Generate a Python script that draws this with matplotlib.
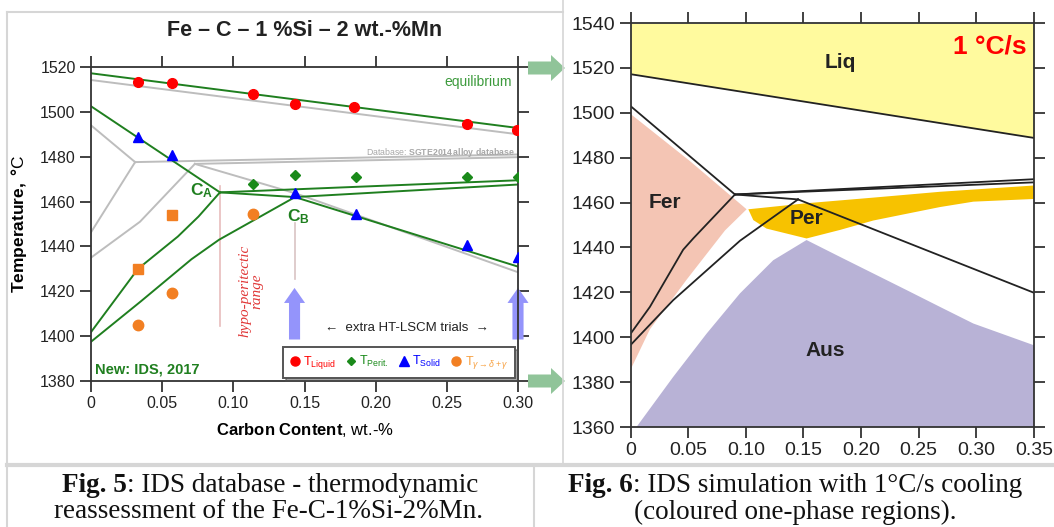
import matplotlib
matplotlib.use('Agg')
import matplotlib.pyplot as plt
from matplotlib.lines import Line2D
from matplotlib.patches import FancyArrow
from matplotlib.offsetbox import TextArea, HPacker, AnchoredOffsetbox

plt.rcParams['font.family'] = ['Liberation Sans', 'DejaVu Sans']
plt.rcParams['mathtext.fontset'] = 'custom'
plt.rcParams['mathtext.rm'] = 'Liberation Sans'
plt.rcParams['mathtext.it'] = 'Liberation Sans:italic'
plt.rcParams['mathtext.bf'] = 'Liberation Sans:bold'

# ---------------- Fig. 5 : measured points ----------------
liq_c = [0.033, 0.057, 0.114, 0.143, 0.185, 0.264, 0.299]
liq_t = [1513.4, 1513.0, 1507.8, 1503.7, 1502.0, 1494.5, 1491.8]
per_c = [0.114, 0.143, 0.186, 0.264, 0.300]
per_t = [1467.9, 1471.9, 1471.1, 1470.8, 1471.1]
sol_c = [0.033, 0.057, 0.143, 0.186, 0.264, 0.300]
sol_t = [1488.9, 1480.7, 1463.7, 1454.5, 1440.7, 1435.1]
gd_sq_c = [0.033, 0.057]
gd_sq_t = [1429.8, 1454.0]
gd_ci_c = [0.033, 0.057, 0.114]
gd_ci_t = [1404.8, 1419.2, 1454.4]

# ---------------- Fig. 5 : IDS equilibrium lines (green) ----------------
eq_liq_c = [0, 0.30]
eq_liq_t = [1517.2, 1492.8]
eq_dsol_c = [0, 0.0906]
eq_dsol_t = [1502.5, 1464.1]
eq_ddg_c = [0, 0.033, 0.061, 0.0755, 0.0906]
eq_ddg_t = [1401.8, 1430.0, 1444.4, 1453.3, 1464.1]
eq_gdg_c = [0, 0.035, 0.0706, 0.090, 0.1433]
eq_gdg_t = [1397.5, 1415.5, 1434.3, 1443.0, 1462.0]
eq_per1_c = [0.0906, 0.30]
eq_per1_t = [1464.1, 1469.5]
eq_per2_c = [0.0906, 0.1433, 0.30]
eq_per2_t = [1464.1, 1462.0, 1467.6]
eq_gsol_c = [0.1433, 0.30]
eq_gsol_t = [1462.0, 1431.0]

# ---------------- Fig. 5 : SGTE2014 database lines (grey) ----------------
db_liq_c = [0, 0.30]
db_liq_t = [1514.2, 1490.0]
db_dsol_c = [0, 0.031]
db_dsol_t = [1494.0, 1477.6]
db_ddg_c = [0, 0.031]
db_ddg_t = [1446.3, 1477.6]
db_gdg_c = [0, 0.0344, 0.073]
db_gdg_t = [1435.0, 1451.0, 1476.8]
db_per1_c = [0.031, 0.30]
db_per1_t = [1477.6, 1481.0]
db_per2_c = [0.073, 0.30]
db_per2_t = [1476.8, 1479.8]
db_gsol_c = [0.073, 0.1445, 0.30]
db_gsol_t = [1476.8, 1463.5, 1428.5]

# hypo-peritectic range limits and extra trials
hypo_c = [0.0906, 0.143]
hypo_lo = [1404.5, 1425.3]
hypo_hi = [1467.0, 1450.4]
trial_c = [0.143, 0.300]

# ---------------- Fig. 6 : simulation lines (black) ----------------
s_liq_c = [0, 0.35]
s_liq_t = [1517.2, 1488.8]
s_dsol_c = [0, 0.0906]
s_dsol_t = [1503.0, 1463.6]
s_per1_c = [0.0906, 0.35]
s_per1_t = [1463.6, 1470.4]
s_per2_c = [0.0906, 0.35]
s_per2_t = [1463.6, 1469.0]
s_per3_c = [0.0906, 0.1453]
s_per3_t = [1463.6, 1461.4]
s_gsol_c = [0.1453, 0.35]
s_gsol_t = [1461.4, 1419.8]
s_ddg_c = [0, 0.0168, 0.0457, 0.0544, 0.0906]
s_ddg_t = [1401.5, 1413.5, 1439.0, 1444.0, 1463.6]
s_gdg_c = [0, 0.037, 0.095, 0.1453]
s_gdg_t = [1396.5, 1416.5, 1443.0, 1461.4]

# ---------------- Fig. 6 : one-phase regions ----------------
fer_c = [0, 0, 0.0515, 0.1007, 0.082, 0.0486, 0.0168, 0]
fer_t = [1385.5, 1499.5, 1478.5, 1457.0, 1447.6, 1425.6, 1403.5, 1385.5]
perr_c = [0.1022, 0.1527, 0.2106, 0.2685, 0.35, 0.35, 0.2974, 0.2685, 0.2395,
          0.2106, 0.1817, 0.1527, 0.118, 0.1065, 0.1022]
perr_t = [1457.0, 1459.7, 1462.2, 1464.8, 1467.6, 1461.6, 1460.4, 1458.0, 1455.0,
          1452.0, 1447.8, 1444.0, 1448.4, 1452.2, 1457.0]
aus_c = [0.0052, 0.037, 0.066, 0.0949, 0.1238, 0.1527, 0.1817, 0.2106, 0.2395,
         0.2685, 0.2974, 0.35, 0.35]
aus_t = [1360.0, 1382.3, 1401.6, 1419.5, 1434.3, 1443.3, 1435.8, 1428.4, 1421.0,
         1413.5, 1406.1, 1396.4, 1360.0]

xticksL = [0, 0.05, 0.10, 0.15, 0.20, 0.25, 0.30]
xlabelsL = ['0', '0.05', '0.10', '0.15', '0.20', '0.25', '0.30']
yticksL = [1380, 1400, 1420, 1440, 1460, 1480, 1500, 1520]
xticksR = [0, 0.05, 0.10, 0.15, 0.20, 0.25, 0.30, 0.35]
xlabelsR = ['0', '0.05', '0.10', '0.15', '0.20', '0.25', '0.30', '0.35']
yticksR = [1360, 1380, 1400, 1420, 1440, 1460, 1480, 1500, 1520, 1540]

W, H = 1054, 527
fig = plt.figure(figsize=(W / 100, H / 100), dpi=100)


def fx(px):
    return px / W


def fy(py):
    return 1 - py / H


GREEN = '#1F7F1F'
GREY = '#BDBDBD'

axL = fig.add_axes([fx(91), fy(381), fx(518) - fx(91), fy(67) - fy(381)])
axR = fig.add_axes([fx(630.5), fy(427), fx(1034) - fx(630.5), fy(23) - fy(427)])


def style(ax, fs):
    for s in ax.spines.values():
        s.set_linewidth(1.3)
        s.set_color('#333333')
        s.set_zorder(5)
    ax.tick_params(direction='out', length=8, width=1.3, color='#333333',
                   labelsize=fs, top=True, right=True, labeltop=False,
                   labelright=False, pad=3, labelcolor='#222222')


# ---------------- left chart ----------------
style(axL, 11.5)
axL.set_xlim(0, 0.30)
axL.set_ylim(1380, 1520)
axL.set_xticks(xticksL)
axL.set_xticklabels(xlabelsL)
axL.set_yticks(yticksL)

for c, t in [(db_liq_c, db_liq_t), (db_dsol_c, db_dsol_t), (db_ddg_c, db_ddg_t),
             (db_gdg_c, db_gdg_t), (db_per1_c, db_per1_t), (db_per2_c, db_per2_t),
             (db_gsol_c, db_gsol_t)]:
    axL.plot(c, t, color=GREY, lw=1.4, zorder=2)

for c, t in [(eq_liq_c, eq_liq_t), (eq_dsol_c, eq_dsol_t), (eq_ddg_c, eq_ddg_t),
             (eq_gdg_c, eq_gdg_t), (eq_per1_c, eq_per1_t), (eq_per2_c, eq_per2_t),
             (eq_gsol_c, eq_gsol_t)]:
    axL.plot(c, t, color=GREEN, lw=1.4, zorder=3)

axL.plot([hypo_c[0]] * 2, [hypo_lo[0], hypo_hi[0]], color='#E8BCBC', lw=1.2, zorder=1)
axL.plot([hypo_c[1]] * 2, [hypo_lo[1], hypo_hi[1]], color='#D9C4C4', lw=1.2, zorder=1)

for xc in trial_c:
    axL.arrow(xc, 1398.5, 0, 23, width=0.0078, head_width=0.0148, head_length=6.7,
              length_includes_head=True, color='#9494FB', lw=0, zorder=4,
              clip_on=False)

axL.plot(liq_c, liq_t, 'o', color='#FF0000', ms=7, zorder=6)
axL.plot(per_c, per_t, 'D', color='#1A8A1A', ms=5, zorder=6)
axL.plot(sol_c, sol_t, '^', color='#0000FF', ms=7, zorder=6)
axL.plot(gd_sq_c, gd_sq_t, 's', color='#F27F22', ms=7.5, zorder=6)
axL.plot(gd_ci_c, gd_ci_t, 'o', color='#F27F22', ms=7.5, zorder=6)

axL.text(0.2956, 1513.4, 'equilibrium', color='#3C9A3C', fontsize=10,
         ha='right', va='center')
axL.text(0.298, 1482.0, r'Database: $\mathbf{SGTE2014\,alloy\ database}$',
         color='#A8A8A8', fontsize=6.3, ha='right', va='center')
axL.text(0.0779, 1465.0, r'$\mathbf{C_A}$', color=GREEN, fontsize=12.5,
         ha='center', va='center')
axL.text(0.1457, 1453.5, r'$\mathbf{C_B}$', color=GREEN, fontsize=12.5,
         ha='center', va='center')
axL.text(0.0025, 1385.0, 'New: IDS, 2017', color=GREEN, fontsize=10.5,
         fontweight='bold', ha='left', va='center')
axL.text(0.1125, 1420.0, 'hypo-peritectic\nrange', color='#E03838', fontsize=11,
         family='Liberation Serif', style='italic', rotation=90, ha='center',
         va='center', linespacing=0.95)
axL.text(0.222, 1403.8, '\u2190  extra HT-LSCM trials  \u2192', color='#222222',
         fontsize=9.5, ha='center', va='center')

handles = [Line2D([], [], ls='none', marker='o', ms=6.5, color='#FF0000'),
           Line2D([], [], ls='none', marker='D', ms=4.5, color='#1A8A1A'),
           Line2D([], [], ls='none', marker='^', ms=6.5, color='#0000FF'),
           Line2D([], [], ls='none', marker='o', ms=6.5, color='#F27F22')]
labels = [r'T$_{\mathrm{Liquid}}$', r'T$_{\mathrm{Perit.}}$', r'T$_{\mathrm{Solid}}$',
          r'T$_{\gamma\rightarrow\delta+\gamma}$']
leg = axL.legend(handles, labels, loc='lower right', ncol=4, fontsize=9,
                 frameon=True, fancybox=False, shadow=True, handlelength=0.7,
                 handletextpad=0.3, columnspacing=0.9, borderpad=0.55,
                 borderaxespad=0.25)
leg.get_frame().set_edgecolor('#555555')
leg.get_frame().set_linewidth(1.4)
for txt, col in zip(leg.get_texts(), ['#FF0000', '#1A8A1A', '#0000FF', '#F7A040']):
    txt.set_color(col)

axL.set_ylabel(r'$\mathbf{Temperature,}$ $\mathbf{°}$C', fontsize=12.5, labelpad=8)
axL.set_xlabel(r'$\mathbf{Carbon\ Content}$, wt.-%', fontsize=12, labelpad=7)
fig.text(fx(304.5), fy(31), 'Fe \u2013 C \u2013 1 %Si \u2013 2 wt.-%Mn', fontsize=15.5,
         fontweight='bold', ha='center', va='center', color='#222222')

# ---------------- right chart ----------------
style(axR, 14)
axR.set_xlim(0, 0.35)
axR.set_ylim(1360, 1540)
axR.set_xticks(xticksR)
axR.set_xticklabels(xlabelsR)
axR.set_yticks(yticksR)

axR.fill_between(s_liq_c, s_liq_t, 1540, color='#FFFA9E', lw=0, zorder=1)
axR.fill(fer_c, fer_t, color='#F4C5B4', lw=0, zorder=1)
axR.fill(perr_c, perr_t, color='#F7C200', lw=0, zorder=1)
axR.fill(aus_c, aus_t, color='#B8B2D6', lw=0, zorder=1)

for c, t in [(s_liq_c, s_liq_t), (s_dsol_c, s_dsol_t), (s_per1_c, s_per1_t),
             (s_per2_c, s_per2_t), (s_per3_c, s_per3_t), (s_gsol_c, s_gsol_t),
             (s_ddg_c, s_ddg_t), (s_gdg_c, s_gdg_t)]:
    axR.plot(c, t, color='#222222', lw=1.3, zorder=3)

axR.text(0.1817, 1522.2, 'Liq', fontsize=15, fontweight='bold', ha='center',
         va='center', color='#222222')
axR.text(0.030, 1460.2, 'Fer', fontsize=15, fontweight='bold', ha='center',
         va='center', color='#222222')
axR.text(0.153, 1453.0, 'Per', fontsize=15, fontweight='bold', ha='center',
         va='center', color='#222222')
axR.text(0.169, 1394.0, 'Aus', fontsize=15, fontweight='bold', ha='center',
         va='center', color='#222222')
axR.text(0.344, 1529.7, '1 °C/s', fontsize=19, fontweight='bold', ha='right',
         va='center', color='#FF0000')

# ---------------- panel frames, arrows, captions ----------------
FRAME = '#D6D6D6'
for (x0, y0, x1, y1, lw) in [(7, 12, 563, 12, 1.5), (7, 12, 7, 527, 1.5),
                             (563, 0, 563, 464, 1.2), (7, 465, 1054, 465, 3.0),
                             (534, 465, 534, 527, 1.5)]:
    fig.add_artist(Line2D([fx(x0), fx(x1)], [fy(y0), fy(y1)], color=FRAME, lw=lw,
                          transform=fig.transFigure))

for ypx in [68, 381]:
    fig.add_artist(FancyArrow(fx(528), fy(ypx), fx(565) - fx(528), 0,
                              width=13 / H, head_width=26 / H,
                              head_length=fx(14), length_includes_head=True,
                              color='#90C499', lw=0, transform=fig.transFigure))

CAP_FS = 19.5


def caption(xc, yc, bold, rest, fs=CAP_FS):
    ta1 = TextArea(bold, textprops=dict(family='Liberation Serif', fontweight='bold',
                                        fontsize=fs, color='#111111'))
    ta2 = TextArea(rest, textprops=dict(family='Liberation Serif', fontsize=fs,
                                        color='#111111'))
    box = HPacker(children=[ta1, ta2], align='baseline', pad=0, sep=0)
    ab = AnchoredOffsetbox(loc='center', child=box, bbox_to_anchor=(xc, yc),
                           bbox_transform=fig.transFigure, frameon=False, pad=0,
                           borderpad=0)
    fig.add_artist(ab)


caption(fx(270), fy(486), 'Fig. 5', ': IDS database - thermodynamic')
fig.text(fx(268), fy(512), 'reassessment of the Fe-C-1%Si-2%Mn.', family='Liberation Serif',
         fontsize=CAP_FS, ha='center', va='center', color='#111111')
caption(fx(795), fy(486), 'Fig. 6', ': IDS simulation with 1°C/s cooling')
fig.text(fx(795), fy(512), '(coloured one-phase regions).', family='Liberation Serif',
         fontsize=CAP_FS, ha='center', va='center', color='#111111')

fig.savefig('out.png', dpi=100)
